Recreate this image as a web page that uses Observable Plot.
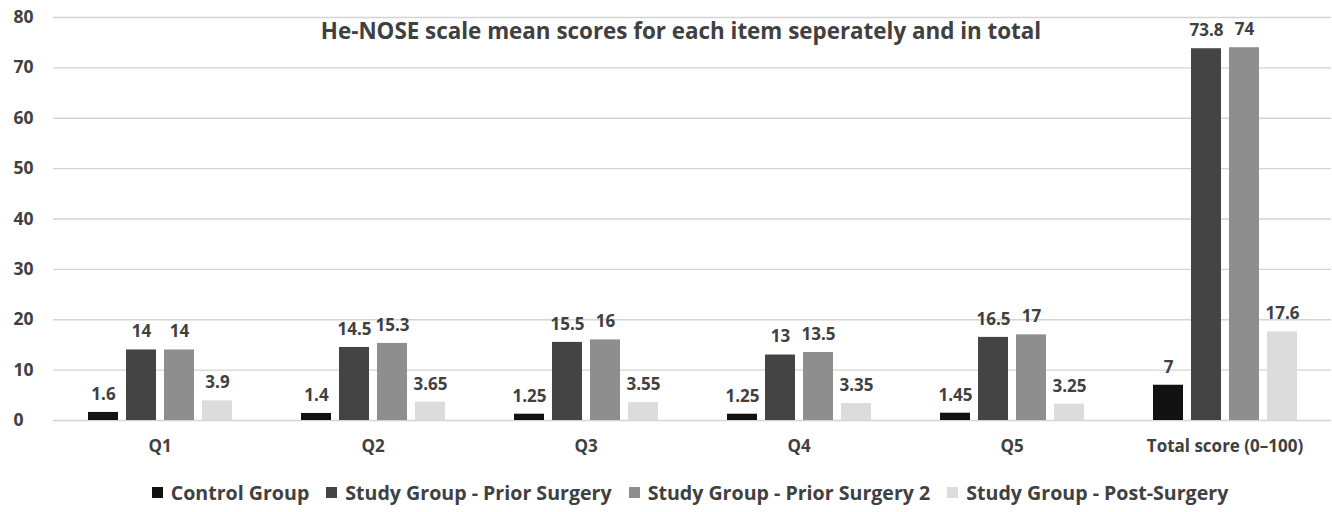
<!DOCTYPE html>
<html>
<head>
<meta charset="utf-8">
<script src="https://cdn.jsdelivr.net/npm/d3@7"></script>
<script src="https://cdn.jsdelivr.net/npm/@observablehq/plot@0.6"></script>
<style>
  body { margin: 0; background: #fff; font-family: "Open Sans", Lato, sans-serif; }
  #wrap { position: relative; width: 1332px; height: 512px; overflow: hidden; }
  #title { position: absolute; top: 15px; left: 0; width: 1362px; text-align: center;
           font-weight: 700; font-size: 22.4px; color: #404040; pointer-events: none; }
  #legend { display: flex; justify-content: center; gap: 17px; font-weight: 700;
            font-size: 19.6px; color: #404040; margin-top: 7px; padding-left: 48px; }
  #legend .item { display: flex; align-items: center; white-space: nowrap; }
  #legend .sw { width: 11px; height: 11px; margin-right: 8px; display: inline-block; }
</style>
</head>
<body>
<div id="wrap">
  <div id="chart"></div>
  <div id="title">He-NOSE scale mean scores for each item seperately and in total</div>
  <div id="legend"></div>
</div>
<script>
// Questionnaire items and the total score
const categories = ["Q1", "Q2", "Q3", "Q4", "Q5", "Total score (0–100)"];

// Groups shown side by side within each item
const series = [
  "Control Group",
  "Study Group - Prior Surgery",
  "Study Group - Prior Surgery 2",
  "Study Group - Post-Surgery"
];
const colors = ["#121212", "#444444", "#8e8e8e", "#dcdcdc"];

// Mean scores per group, in category order
const control = [1.6, 1.4, 1.25, 1.25, 1.45, 7];
const priorSurgery = [14, 14.5, 15.5, 13, 16.5, 73.8];
const priorSurgery2 = [14, 15.3, 16, 13.5, 17, 74];
const postSurgery = [3.9, 3.65, 3.55, 3.35, 3.25, 17.6];

const yTicks = [0, 10, 20, 30, 40, 50, 60, 70, 80];

const seriesValues = [control, priorSurgery, priorSurgery2, postSurgery];
const rows = categories.flatMap((category, i) =>
  series.map((s, j) => ({ category, series: s, value: seriesValues[j][i] }))
);

const font = "'Open Sans', Lato, sans-serif";

const chart = Plot.plot({
  width: 1332,
  height: 472,
  marginLeft: 52,
  marginRight: 0,
  marginTop: 17,
  marginBottom: 52,
  style: { fontFamily: font, fontSize: "17px", fontWeight: 700, color: "#404040", background: "#fff" },
  fx: { domain: categories, padding: 0, label: null },
  x: { domain: series, paddingInner: 0.218, paddingOuter: 0.844, axis: null },
  y: { domain: [0, 80], label: null },
  color: { domain: series, range: colors },
  marks: [
    Plot.gridY(yTicks, { stroke: "#d4d4d4", strokeOpacity: 1, strokeWidth: 1.4 }),
    Plot.axisY(yTicks, { tickSize: 0, tickPadding: 40, textAnchor: "start", label: null, fill: "#404040", fontSize: 17.5 }),
    Plot.axisFx({ anchor: "bottom", tickSize: 0, tickPadding: 19, label: null, fill: "#404040" }),
    Plot.barY(rows, { fx: "category", x: "series", y: "value", fill: "series" }),
    Plot.text(rows, {
      fx: "category", x: "series", y: "value",
      text: d => String(d.value),
      dy: -18, lineAnchor: "middle", fill: "#404040"
    })
  ]
});
document.getElementById("chart").appendChild(chart);

// Legend row below the chart
const legend = document.getElementById("legend");
series.forEach((s, i) => {
  const item = document.createElement("span");
  item.className = "item";
  const sw = document.createElement("span");
  sw.className = "sw";
  sw.style.background = colors[i];
  item.appendChild(sw);
  item.appendChild(document.createTextNode(s));
  legend.appendChild(item);
});
</script>
</body>
</html>
